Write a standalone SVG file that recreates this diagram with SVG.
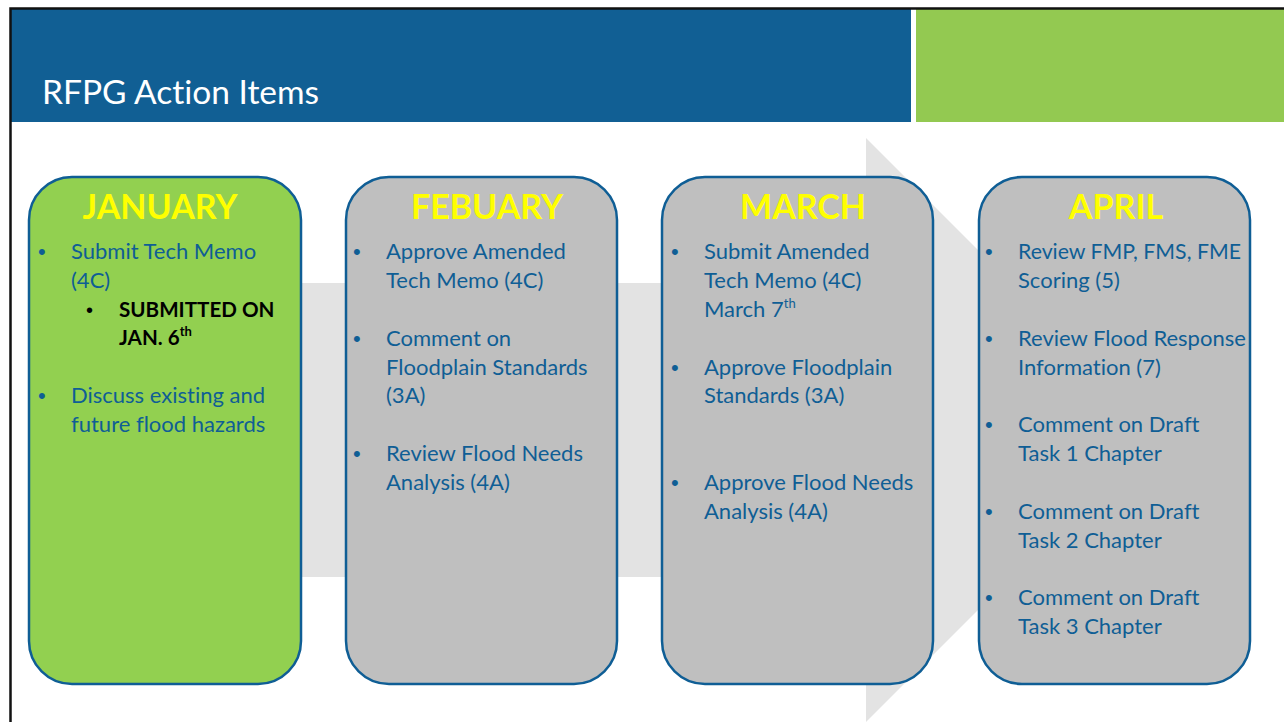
<svg xmlns="http://www.w3.org/2000/svg" width="1284" height="722" viewBox="0 0 1284 722">
<style>
.box{stroke:#0f5e95;stroke-width:2.5}
.gray{fill:#bfbfbf}
.green{fill:#92d050}
.month{font-family:Lato,"Liberation Sans",sans-serif;font-weight:bold;font-size:34px;fill:#ffff00;text-anchor:middle}
.t{font-family:Lato,"Liberation Sans",sans-serif;font-size:22px;fill:#0f5e95;font-variant-ligatures:none}
.b{font-family:"Liberation Sans",sans-serif;font-size:22px;fill:#0f5e95}
.sb{font-family:Lato,"Liberation Sans",sans-serif;font-size:20.6px;font-weight:bold;fill:#000}
.sbb{font-family:"Liberation Sans",sans-serif;font-size:20px;fill:#000}
.sup{font-size:13px}
</style>
<rect x="0" y="0" width="1284" height="722" fill="#ffffff"/>
<g id="header">
<rect x="11" y="9" width="900" height="113" fill="#115f94"/>
<rect x="916" y="9" width="368" height="113" fill="#93c951"/>
<path d="M10.5,722 V8.5 H1284" fill="none" stroke="#111" stroke-width="2.5"/>
<text x="42" y="104" font-family="Lato,'Liberation Sans',sans-serif" font-size="33.5" fill="#ffffff" style="font-variant-ligatures:none">RFPG Action Items</text>
</g>
<g id="connectors">
<polygon points="40,283 866,283 866,138 1158,430 866,722 866,577 40,577" fill="#e3e3e3"/>
</g>
<g id="january">
<rect class="box green" x="29" y="177" width="272" height="507" rx="43"/>
<text class="month" x="160" y="219">JANUARY</text>
<text class="b" x="38" y="259">•</text>
<text class="t" x="71" y="259">Submit Tech Memo</text>
<text class="t" x="71" y="288">(4C)</text>
<text class="sbb" x="86" y="317">•</text>
<text class="sb" x="119" y="317">SUBMITTED ON</text>
<text class="sb" x="119" y="345">JAN. 6<tspan class="sup" dy="-9">th</tspan></text>
<text class="b" x="38" y="403">•</text>
<text class="t" x="71" y="403">Discuss existing and</text>
<text class="t" x="71" y="432">future flood hazards</text>
</g>
<g id="february">
<rect class="box gray" x="346" y="177" width="271" height="507" rx="43"/>
<text class="month" x="487" y="219">FEBUARY</text>
<text class="b" x="353" y="259">•</text>
<text class="t" x="386" y="259">Approve Amended</text>
<text class="t" x="386" y="288">Tech Memo (4C)</text>
<text class="b" x="353" y="346">•</text>
<text class="t" x="386" y="346">Comment on</text>
<text class="t" x="386" y="375">Floodplain Standards</text>
<text class="t" x="386" y="403">(3A)</text>
<text class="b" x="353" y="461">•</text>
<text class="t" x="386" y="461">Review Flood Needs</text>
<text class="t" x="386" y="490">Analysis (4A)</text>
</g>
<g id="march">
<rect class="box gray" x="662" y="177" width="271" height="507" rx="43"/>
<text class="month" x="803" y="219">MARCH</text>
<text class="b" x="671" y="259">•</text>
<text class="t" x="704" y="259">Submit Amended</text>
<text class="t" x="704" y="288">Tech Memo (4C)</text>
<text class="t" x="704" y="317">March 7<tspan class="sup" dy="-9">th</tspan></text>
<text class="b" x="671" y="375">•</text>
<text class="t" x="704" y="375">Approve Floodplain</text>
<text class="t" x="704" y="403">Standards (3A)</text>
<text class="b" x="671" y="490">•</text>
<text class="t" x="704" y="490">Approve Flood Needs</text>
<text class="t" x="704" y="519">Analysis (4A)</text>
</g>
<g id="april">
<rect class="box gray" x="979" y="177" width="271" height="507" rx="43"/>
<text class="month" x="1116" y="219">APRIL</text>
<text class="b" x="985" y="259">•</text>
<text class="t" x="1018" y="259" textLength="223" lengthAdjust="spacingAndGlyphs">Review FMP, FMS, FME</text>
<text class="t" x="1018" y="288">Scoring (5)</text>
<text class="b" x="985" y="346">•</text>
<text class="t" x="1018" y="346">Review Flood Response</text>
<text class="t" x="1018" y="375">Information (7)</text>
<text class="b" x="985" y="432">•</text>
<text class="t" x="1018" y="432">Comment on Draft</text>
<text class="t" x="1018" y="461">Task 1 Chapter</text>
<text class="b" x="985" y="519">•</text>
<text class="t" x="1018" y="519">Comment on Draft</text>
<text class="t" x="1018" y="548">Task 2 Chapter</text>
<text class="b" x="985" y="605">•</text>
<text class="t" x="1018" y="605">Comment on Draft</text>
<text class="t" x="1018" y="634">Task 3 Chapter</text>
</g>
</svg>
